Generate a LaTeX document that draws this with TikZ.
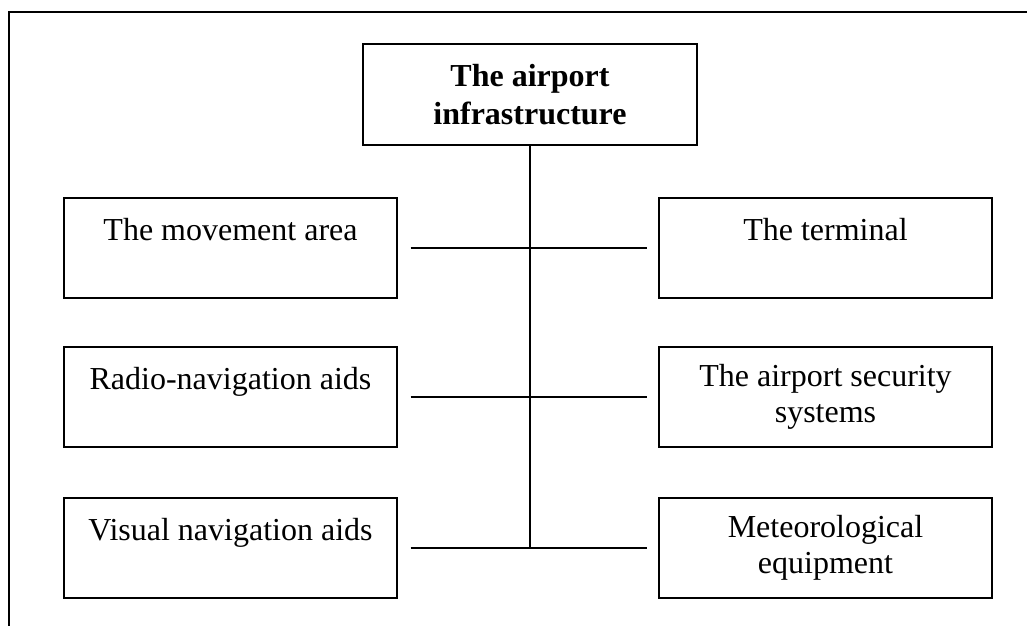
\documentclass[tikz,border=0pt]{standalone}
\usepackage{fontspec}
\setmainfont{Liberation Serif}

\begin{document}
\begin{tikzpicture}[x=1pt,y=-1pt,line width=1.4pt,
  unit/.style={draw,inner sep=0pt,minimum width=333pt,minimum height=100pt,align=center,font=\fontsize{32}{36.5}\selectfont},
  link/.style={line width=1.4pt,shorten <=13pt,shorten >=11pt}]
\path[use as bounding box] (0,0) rectangle (1027,625);
% outer frame, cut off at the right and bottom
\draw[line width=2pt] (1032,12) -| (9,630);
% root
\node[unit,minimum width=334pt,minimum height=101pt,font=\fontsize{32}{37.5}\selectfont\bfseries] (infra) at (530,94.5) {The airport\\infrastructure};
% left column
\node[unit] (move) at (230.5,248) {The movement area\\\mbox{}};
\node[unit] (radio) at (230.5,397) {Radio-navigation aids\\\mbox{}};
\node[unit] (visual) at (230.5,548) {Visual navigation aids\\\mbox{}};
% right column
\node[unit] (term) at (825.5,248) {The terminal\\\mbox{}};
\node[unit] (secur) at (825.5,397) {The airport security\\systems};
\node[unit] (meteo) at (825.5,548) {Meteorological\\equipment};
% connectors
\draw[line width=1.4pt] (infra.south) -- (infra.south |- visual.east);
\draw[link] (move) -- (term);
\draw[link] (radio) -- (secur);
\draw[link] (visual) -- (meteo);
\end{tikzpicture}
\end{document}
